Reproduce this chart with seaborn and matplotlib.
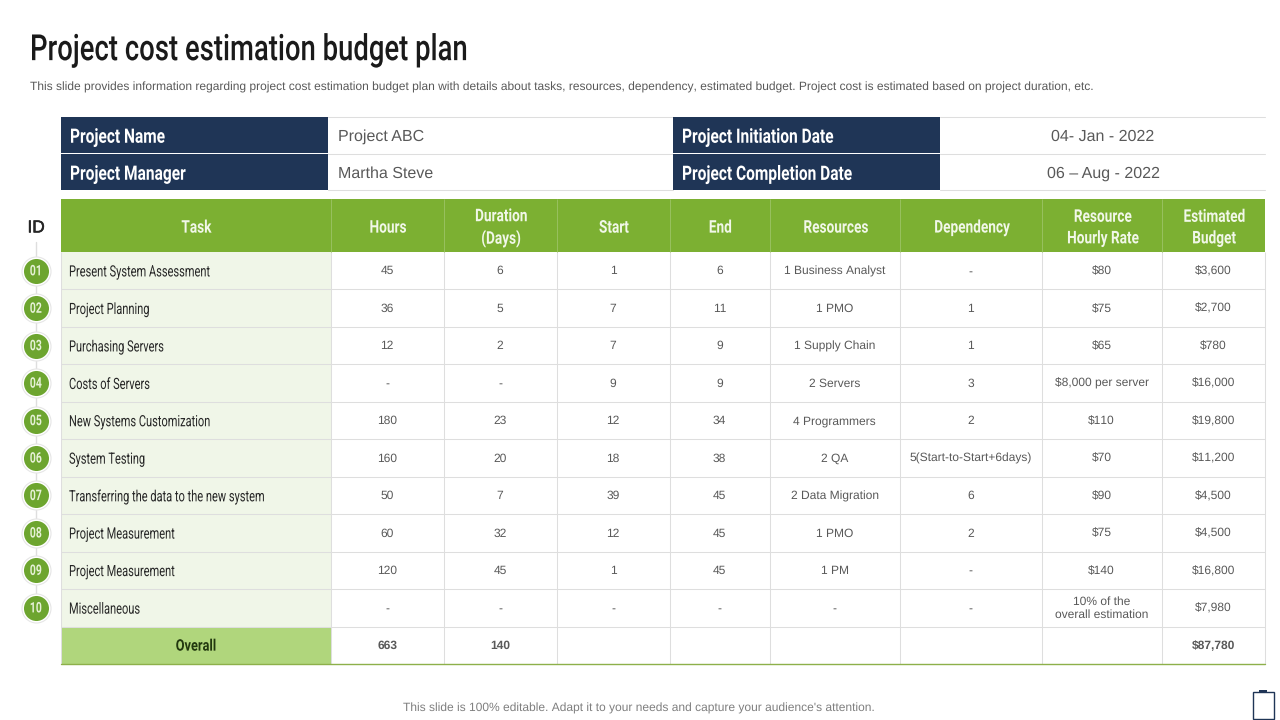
import numpy as np
import matplotlib
matplotlib.use("Agg")
import matplotlib.pyplot as plt
from matplotlib.colors import ListedColormap
from matplotlib.patches import Rectangle
from matplotlib.patheffects import AbstractPathEffect, withStroke
from matplotlib.transforms import Affine2D
import seaborn as sns

sns.set_theme(style="white")
NARROW = "Roboto"
SANS = "Liberation Sans"
plt.rcParams["font.family"] = [SANS, "DejaVu Sans"]
plt.rcParams["text.hinting"] = "no_hinting"
plt.rcParams["text.hinting_factor"] = 1

title = "Project cost estimation budget plan"
subtitle = ("This slide provides information regarding project cost estimation budget plan with details about tasks, "
            "resources, dependency, estimated budget. Project cost is estimated based on project duration, etc.")
footer = "This slide is 100% editable. Adapt it to your needs and capture your audience's attention."

meta_labels_l = ["Project Name", "Project Manager"]
meta_values_l = ["Project ABC", "Martha Steve"]
meta_labels_r = ["Project Initiation Date", "Project Completion Date"]
meta_values_r = ["04- Jan - 2022", "06 – Aug - 2022"]

headers = ["Task", "Hours", "Duration\n(Days)", "Start", "End", "Resources", "Dependency",
           "Resource\nHourly Rate", "Estimated\nBudget"]
ids = ["01", "02", "03", "04", "05", "06", "07", "08", "09", "10"]
tasks = ["Present System Assessment", "Project Planning", "Purchasing Servers", "Costs of Servers",
         "New Systems Customization", "System Testing", "Transferring the data to the new system",
         "Project Measurement", "Project Measurement", "Miscellaneous", "Overall"]
hours = ["45", "36", "12", "-", "180", "160", "50", "60", "120", "-", "663"]
duration = ["6", "5", "2", "-", "23", "20", "7", "32", "45", "-", "140"]
start = ["1", "7", "7", "9", "12", "18", "39", "12", "1", "-", ""]
end = ["6", "11", "9", "9", "34", "38", "45", "45", "45", "-", ""]
resources = ["1 Business Analyst", "1 PMO", "1 Supply Chain", "2 Servers", "4 Programmers", "2 QA",
             "2 Data Migration", "1 PMO", "1 PM", "-", ""]
dependency = ["-", "1", "1", "3", "2", "5(Start-to-Start+6days)", "6", "2", "-", "-", ""]
rate = ["$80", "$75", "$65", "$8,000 per server", "$110", "$70", "$90", "$75", "$140",
        "10% of the\noverall estimation", ""]
budget = ["$3,600", "$2,700", "$780", "$16,000", "$19,800", "$11,200", "$4,500", "$4,500", "$16,800",
          "$7,980", "$87,780"]

columns = [tasks, hours, duration, start, end, resources, dependency, rate, budget]
col_edges = [61, 331, 444, 557, 670, 770, 900, 1042, 1162, 1265]
body_top, body_bottom = 252, 664
head_top = 199

W, H = 1280, 720
fig = plt.figure(figsize=(12.8, 7.2), dpi=100, facecolor="white")

NAVY, GREEN, PALE, OLIVE, LINE = "#1f3556", "#7cb032", "#f0f6e8", "#b0d67c", "#dedede"
TXT, DARK = "#595959", "#262626"


class Squeeze(AbstractPathEffect):
    """Draw real text narrower, about a pixel column: the picture's face is a condensed one."""

    def __init__(self, sx, x0):
        super().__init__()
        self.sx, self.x0 = sx, x0

    def draw_path(self, renderer, gc, tpath, affine, rgbFace=None):
        squeeze = Affine2D().translate(-self.x0, 0).scale(self.sx, 1).translate(self.x0, 0)
        renderer.draw_path(gc, tpath, affine + squeeze, rgbFace)


# Table body: one seaborn heatmap per column, so that columns can differ in width
n_rows = len(tasks)
row_h = (body_bottom - body_top) / n_rows
for i, col in enumerate(columns):
    l, r = col_edges[i], col_edges[i + 1]
    ax = fig.add_axes([l / W, 1 - body_bottom / H, (r - l) / W, (body_bottom - body_top) / H])
    kinds = np.zeros((n_rows, 1))
    if i == 0:
        kinds[:, 0] = 1
        kinds[-1, 0] = 2
    annot = False
    if i > 0:
        annot = np.array(col, dtype=object).reshape(-1, 1)
    sns.heatmap(kinds, ax=ax, cmap=ListedColormap(["white", PALE, OLIVE]), vmin=0, vmax=2, cbar=False,
                xticklabels=False, yticklabels=False, linewidths=0,
                annot=annot, fmt="", annot_kws={"fontsize": 8.7, "color": TXT, "linespacing": 1.22})
    for t in ax.texts:
        x, y = t.get_position()
        t.set_position((x - 0.4 / (r - l), y + 0.5 / row_h))
        if y > n_rows - 1:
            t.set_fontweight("bold")

# Overlay for the grid, header, meta block and decorations
ov = fig.add_axes([0, 0, 1, 1], facecolor="none")
ov.set_xlim(0, W)
ov.set_ylim(H, 0)
ov.axis("off")

row_edges = [body_top + row_h * k for k in range(n_rows + 1)]
ov.hlines(row_edges[1:-1], col_edges[0], col_edges[-1], color=LINE, lw=0.75)
ov.vlines(col_edges, body_top, body_bottom, color=LINE, lw=0.75)


def narrow(x, y, s, sx, size, color, ha="left", weight="bold", **kw):
    t = ov.text(x, y, s, ha=ha, va="center", fontsize=size, family=NARROW, weight=weight, color=color, **kw)
    t.set_path_effects([Squeeze(sx, x)])
    return t


# Task names
for k, name in enumerate(tasks[:-1]):
    narrow(69, body_top + row_h * (k + 0.5) + 1.5, name, 0.71, 11.2, DARK, weight="normal")
narrow((col_edges[0] + col_edges[1]) / 2, body_top + row_h * (n_rows - 0.5) + 1, tasks[-1], 0.8, 11.5,
       "#22380f", ha="center")

ov.plot([col_edges[0], col_edges[-1]], [body_bottom, body_bottom], color="#8db04a", lw=1.0)

# Green header
ov.add_patch(Rectangle((col_edges[0], head_top), col_edges[-1] - col_edges[0], body_top - head_top, fc=GREEN, ec="none"))
ov.vlines(col_edges[1:-1], head_top, body_top, color="#97c05e", lw=0.75)
for i, h in enumerate(headers):
    l, r = col_edges[i], col_edges[i + 1]
    narrow((l + r) / 2, (head_top + body_top) / 2 + 2.5, h, 0.78, 12.6, "#f1f7e8", ha="center", linespacing=1.42)

# Meta block
meta_rows = [(117, 153), (154, 190)]
for (y0, y1), ll, lv, rl, rv in zip(meta_rows, meta_labels_l, meta_values_l, meta_labels_r, meta_values_r):
    ym = (y0 + y1) / 2
    ov.add_patch(Rectangle((61, y0), 267, y1 - y0, fc=NAVY, ec="none"))
    ov.add_patch(Rectangle((673, y0), 267, y1 - y0, fc=NAVY, ec="none"))
    narrow(70, ym + 2.5, ll, 0.78, 14.3, "white")
    narrow(682, ym + 2.5, rl, 0.78, 14.3, "white")
    ov.text(338, ym + 1.5, lv, ha="left", va="center", color=TXT, fontsize=11.7)
    ov.text(1103, ym + 1.5, rv, ha="center", va="center", color=TXT, fontsize=11.6)
for y in (117, 153.5, 190):
    ov.plot([328, 673], [y, y], color=LINE, lw=0.75, zorder=0)
    ov.plot([940, 1265], [y, y], color=LINE, lw=0.75, zorder=0)

# ID rail
centers = [body_top + row_h * (k + 0.5) for k in range(len(ids))]
id_txt = ov.text(36, 228, "ID", ha="center", va="center", fontsize=12.4, color="#262626")
id_txt.set_path_effects([withStroke(linewidth=0.4, foreground="#262626")])
ov.plot([36, 36], [242, centers[-1]], color=LINE, lw=1, zorder=1)
ov.scatter([36] * len(ids), centers, s=436, c="white", edgecolors="#e6e6e6", linewidths=0.8, zorder=2)
ov.scatter([36] * len(ids), centers, s=325, c="#6da52f", linewidths=0, zorder=3)
for c, s in zip(centers, ids):
    narrow(36, c + 0.5, s, 0.72, 10.5, "#e6f1d6", ha="center", zorder=4)

# Titles
narrow(30, 50.5, title, 0.76, 26, "#1a1a1a", weight="medium")
ov.text(30, 87, subtitle, ha="left", va="center", fontsize=8.65, color=TXT)
ov.text(639, 708.5, footer, ha="center", va="center", fontsize=8.7, color="#7f7f7f")

# Clipboard icon
ov.add_patch(Rectangle((1252.5, 692), 21, 26.5, fc="white", ec=NAVY, lw=1))
ov.add_patch(Rectangle((1259, 689.5), 8, 2.5, fc=NAVY, ec="none"))

fig.savefig("out.png", dpi=100, facecolor="white")
